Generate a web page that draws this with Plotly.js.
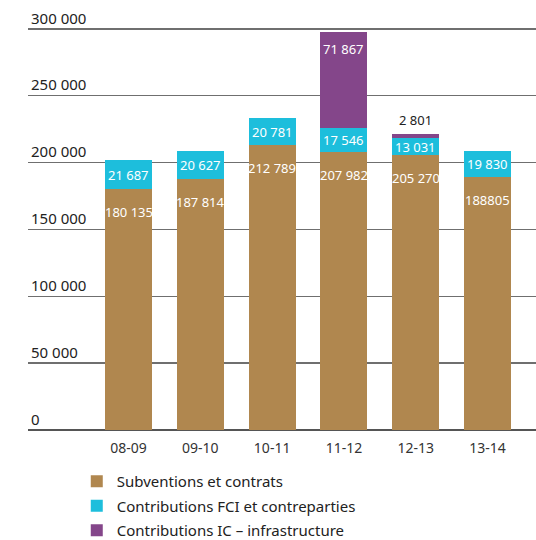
<!DOCTYPE html>
<html>
<head>
<meta charset="utf-8">
<script src="https://cdn.plot.ly/plotly-3.0.1.min.js"></script>
<style>html,body{margin:0;padding:0;background:#fff}#chart{width:536px;height:540px}</style>
</head>
<body>
<div id="chart"></div>
<script>
var categories = ["08-09", "09-10", "10-11", "11-12", "12-13", "13-14"];
var subventions = [180135, 187814, 212789, 207982, 205270, 188805];
var fci = [21687, 20627, 20781, 17546, 13031, 19830];
var ic = [null, null, null, 71867, 2801, null];
var subventionsLabels = ["180 135", "187 814", "212 789", "207 982", "205 270", "188805"];
var fciLabels = ["21 687", "20 627", "20 781", "17 546", "13 031", "19 830"];
var icLabels = ["", "", "", "71 867", "2 801", ""];
var seriesNames = ["Subventions et contrats", "Contributions FCI et contreparties", "Contributions IC \u2013 infrastructure"];
var yTickVals = [0, 50000, 100000, 150000, 200000, 250000, 300000];
var yTickText = ["0", "50 000", "100 000", "150 000", "200 000", "250 000", "300 000"];

var FONT = "Noto Sans, Open Sans, sans-serif";
var colors = ["#B0874F", "#1DBEDC", "#84468A"];

var traces = [
  {type: "bar", x: categories, y: subventions, name: seriesNames[0],
   marker: {color: colors[0]}, hoverinfo: "none", legendgroup: "a"},
  {type: "bar", x: categories, y: fci, name: seriesNames[1],
   marker: {color: colors[1]}, hoverinfo: "none", legendgroup: "b"},
  {type: "bar", x: categories, y: ic, name: seriesNames[2],
   marker: {color: colors[2]}, hoverinfo: "none", legendgroup: "c"}
];

var annotations = [];
categories.forEach(function (c, i) {
  annotations.push({x: c, y: subventions[i], xref: "x", yref: "y", text: subventionsLabels[i],
    showarrow: false, yanchor: "top", yshift: -12,
    font: {color: "#fff", size: 13, family: FONT}});
  annotations.push({x: c, y: subventions[i] + fci[i] / 2, xref: "x", yref: "y", text: fciLabels[i],
    showarrow: false, yanchor: "middle", yshift: 0,
    font: {color: "#fff", size: 13, family: FONT}});
  if (ic[i]) {
    var top = subventions[i] + fci[i] + ic[i];
    var inside = ic[i] > 20000;
    annotations.push({x: c, y: top, xref: "x", yref: "y", text: icLabels[i],
      showarrow: false, yanchor: inside ? "top" : "bottom", yshift: inside ? -6 : 3,
      font: {color: inside ? "#fff" : "#222", size: 13, family: FONT}});
  }
});

var layout = {
  width: 536, height: 540,
  margin: {l: 28, r: 0, t: 2.27, b: 108, autoexpand: false},
  paper_bgcolor: "#fff", plot_bgcolor: "#fff",
  barmode: "stack", bargap: 0.345,
  font: {family: FONT, color: "#222"},
  showlegend: true,
  legend: {orientation: "v", traceorder: "grouped", x: 0.096, xanchor: "left", y: -0.077, yanchor: "top",
    font: {size: 15, color: "#222", family: FONT}, tracegroupgap: 2, bgcolor: "rgba(0,0,0,0)"},
  xaxis: {type: "category", range: [-1.4, 5.675], showgrid: false, zeroline: false, showline: false,
    ticks: "", tickfont: {size: 14, color: "#333", family: FONT}, ticklabelstandoff: 6, fixedrange: true},
  yaxis: {range: [-1500, 320000], tickvals: yTickVals, ticktext: yTickText, ticklabelposition: "inside top",
    showgrid: true, gridcolor: "#6f6f6f", gridwidth: 1.5, zeroline: true, zerolinecolor: "#555",
    zerolinewidth: 1.5, showline: false, ticks: "",
    tickfont: {size: 15, color: "#222", family: FONT}, fixedrange: true},
  annotations: annotations
};

Plotly.newPlot("chart", traces, layout, {displayModeBar: false, staticPlot: true});
</script>
</body>
</html>
